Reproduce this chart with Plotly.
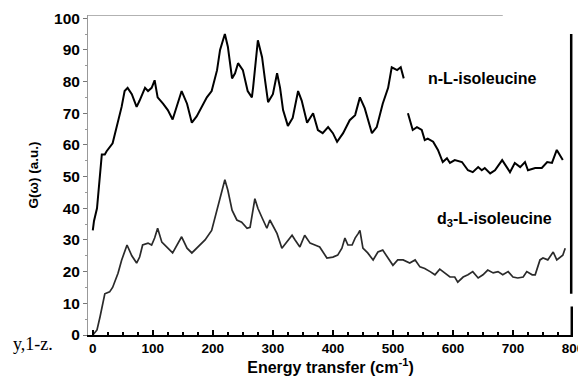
import plotly.graph_objects as go

# energy transfer (cm-1) and G(w) values
x_n = [0, 2, 7, 12, 15, 20, 23, 33, 40, 48, 53, 58, 65, 73, 78, 87, 92, 98, 103,
       108, 117, 125, 133, 140, 148, 157, 165, 173, 182, 190, 198, 207, 212, 220,
       225, 232, 237, 242, 250, 258, 265, 267, 275, 282, 287, 292, 300, 307, 312,
       317, 325, 333, 342, 348, 357, 367, 375, 383, 392, 400, 407, 417, 428, 437,
       445, 453, 465, 473, 483, 492, 498, 507, 513, 518, None,
       525, 533, 540, 548, 553, 558, 567, 575, 583, 590, 595, 603, 615, 625, 633,
       642, 648, 653, 662, 670, 682, 690, 695, 703, 712, 720, 725, 737, 748, 757,
       765, 773, 778, 783]
g_n = [33, 36, 40, 51, 57, 57, 58, 60.5, 65.6, 72, 77, 78, 76, 72, 74, 78, 77, 78, 80.4,
       75, 73, 71, 68, 72, 77, 73, 67, 69, 72, 75, 77, 83.6, 90, 95,
       91, 81, 82.6, 85.8, 83.6, 77, 75, 78, 93, 87.7, 80.4, 73.5, 76, 82.6, 78,
       71, 66, 68.5, 77, 74, 67, 70, 64.7, 63.7, 65.6, 63.7, 61, 63.7, 67.8, 69.4,
       75, 71.6, 63.7, 65.6, 73, 78, 84.5, 83.6, 84.5, 81, None,
       70, 64.7, 65.6, 64.7, 61.5, 62, 61, 58.4, 54.6, 55.8, 54.3, 55.2, 54.6, 52, 51.4,
       53, 52, 52.7, 51, 52, 55.2, 52.7, 51.4, 54.3, 53, 54.6, 52, 52.7, 52.7, 54.6,
       54.3, 58.4, 56.8, 55.2]

x_d = [0, 7, 12, 20, 28, 33, 42, 48, 57, 65, 73, 78, 83, 92, 98, 103, 108, 115,
       123, 133, 148, 157, 165, 175, 187, 198, 208, 220, 225, 232, 240, 248, 257,
       262, 270, 275, 282, 290, 295, 300, 307, 315, 323, 332, 337, 345, 353, 362,
       370, 378, 390, 400, 408, 415, 420, 425, 432, 437, 442, 445, 450, 458, 467,
       475, 483, 492, 500, 508, 517, 528, 537, 545, 553, 562, 570, 578, 587, 595,
       603, 608, 617, 625, 633, 642, 650, 658, 667, 675, 683, 692, 700, 708, 717,
       723, 732, 737, 745, 750, 758, 767, 773, 783, 787]
g_d = [0, 1.6, 5.7, 13, 13.6, 15, 19.5, 23.6, 28.4, 25, 22.7, 24.6, 28.4, 29, 28.4,
       30.6, 33.7, 29.3, 27.8, 25.9, 31, 27.4, 25.9, 27.8, 30, 33, 40.4, 49, 45.7,
       39.4, 36.3, 35.6, 33.7, 34, 43, 40, 37, 33.7, 36.3, 34.7, 32, 27.4, 29.3,
       31.5, 30, 27.8, 31.5, 29, 28.4, 27.8, 24.3, 24.6, 25.2, 27.4, 30.6, 28.4,
       28.4, 30.6, 32, 33, 27.4, 25.9, 23.7, 26.2, 26.8, 24.3, 22, 23.7, 23.7, 22.7,
       23.7, 21.5, 21, 20, 19, 20.8, 19.6, 18.3, 18.3, 16.7, 18.3, 19, 20, 18, 19,
       20.5, 19.6, 20, 19, 20, 18.3, 18, 18.3, 20, 19, 19, 23.7, 24.3, 23.7, 26.2,
       23.7, 25.2, 27.4]

x_ticks = [0, 100, 200, 300, 400, 500, 600, 700, 800]
y_ticks = [0, 10, 20, 30, 40, 50, 60, 70, 80, 90, 100]

FAM = "Liberation Sans, Arial, sans-serif"


def bold(size):
    return dict(family=FAM, size=size, color="black", weight="bold")


fig = go.Figure()
fig.add_trace(go.Scatter(x=x_n, y=g_n, mode="lines", connectgaps=False,
                         line=dict(color="black", width=2), showlegend=False))
fig.add_trace(go.Scatter(x=x_d, y=g_d, mode="lines",
                         line=dict(color="#2a2a2a", width=1.7), showlegend=False))

# page body adds an 8px offset, so the figure is 8px smaller and margins shifted
fig.update_layout(
    width=578, height=378,
    margin=dict(l=80, r=13, t=7, b=51),
    paper_bgcolor="white", plot_bgcolor="white",
    xaxis=dict(range=[-8, 800], tickvals=x_ticks, ticks="inside", ticklen=5,
               tickwidth=1.5, tickcolor="black", showgrid=False, zeroline=False,
               showline=True, linecolor="black", linewidth=2, tickfont=bold(13.5),
               automargin=False,
               minor=dict(dtick=25, tick0=0, ticks="inside", ticklen=3, tickcolor="black"),
               title=dict(text="Energy transfer (cm<sup>-1</sup>)", font=bold(16), standoff=3)),
    yaxis=dict(range=[0, 101], tickvals=y_ticks, ticks="outside", ticklen=4,
               tickcolor="#777", showgrid=False, zeroline=False, automargin=False,
               showline=True, linecolor="#999", linewidth=1, tickfont=bold(15.5),
               minor=dict(dtick=5, ticks="outside", ticklen=2, tickcolor="#999"),
               title=dict(text="G(ω) (a.u.)", font=bold(13.5), standoff=12)),
)

# scan frame pieces: grey top rule, broken right rule
fig.add_shape(type="line", x0=-8, x1=683, y0=101, y1=101,
              line=dict(color="#999", width=1.5))
fig.add_shape(type="line", x0=797, x1=797, y0=13, y1=95,
              line=dict(color="black", width=2.5))
fig.add_shape(type="line", x0=798, x1=798, y0=0, y1=9,
              line=dict(color="black", width=2.5))

fig.add_annotation(x=650, y=81, text="n-L-isoleucine", showarrow=False, font=bold(16))
fig.add_annotation(x=670, y=36.3, text="d<sub>3</sub>-L-isoleucine", showarrow=False,
                   font=bold(16))
fig.add_annotation(xref="paper", yref="paper", x=-0.068, y=-0.065, xanchor="right",
                   text="y,1-z.", showarrow=False,
                   font=dict(family="Liberation Serif, serif", size=18, color="black"))

fig.write_html("out.html")
